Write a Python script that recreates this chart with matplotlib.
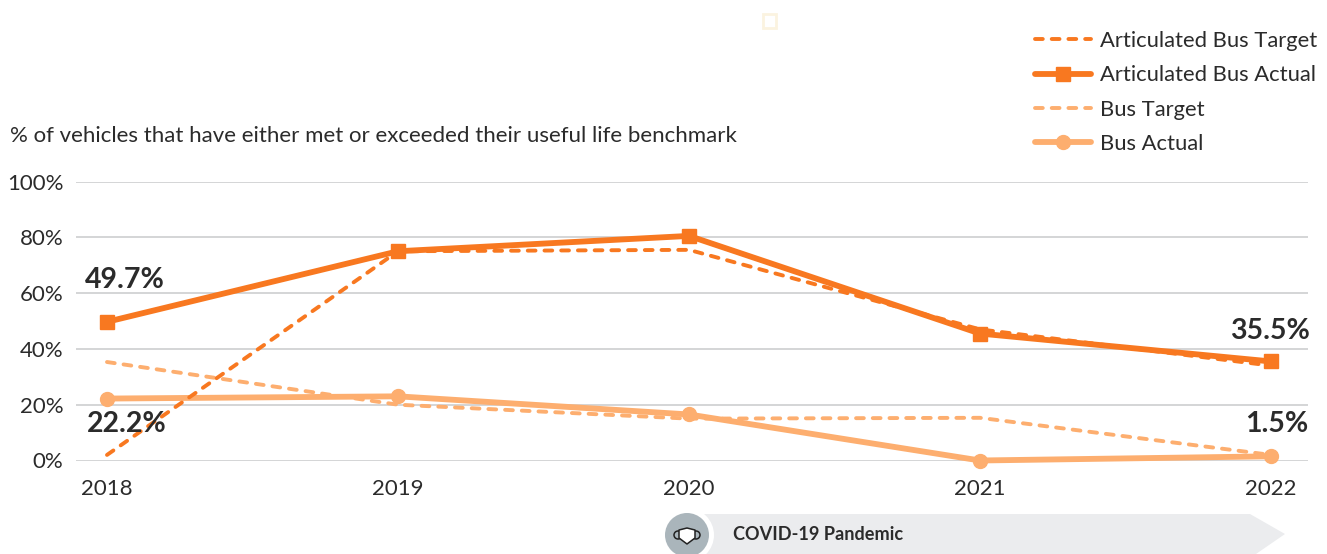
import matplotlib
matplotlib.use('Agg')
import matplotlib.pyplot as plt
from matplotlib.patches import Polygon, Circle, Rectangle

W, H = 1327, 554

years = [2018, 2019, 2020, 2021, 2022]
art_target = [2, 75, 75.5, 47, 34]
art_actual = [49.7, 75, 80.5, 45.5, 35.5]
bus_target = [35.3, 20, 15, 15.3, 2]
bus_actual = [22.2, 23, 16.5, 0, 1.5]
y_ticks = [0, 20, 40, 60, 80, 100]

DARK = '#F87820'
LIGHT = '#FDAE6F'
TEXT = '#2b2b2b'

plt.rcParams['font.family'] = ['Lato', 'DejaVu Sans']

fig = plt.figure(figsize=(W / 100, H / 100), dpi=100)

# overlay in pixel coords for the bits outside the plot
bg = fig.add_axes([0, 0, 1, 1])
bg.set_xlim(0, W)
bg.set_ylim(H, 0)
bg.axis('off')

ax = fig.add_axes([76 / W, 1 - 460.5 / H, (1308 - 76) / W, 279 / H])
ax.patch.set_alpha(0)
ax.set_xlim(2018 - 31 / 291, 2022 + 37 / 291)
ax.set_ylim(0, 100)
for s in ax.spines.values():
    s.set_visible(False)
ax.set_yticks(y_ticks)
ax.set_yticklabels([f'{v}%' for v in y_ticks])
ax.set_xticks(years)
ax.tick_params(length=0, labelsize=16, labelcolor=TEXT)
ax.tick_params(axis='y', pad=9)
ax.tick_params(axis='x', pad=13)
ax.grid(axis='y', color='#c9cacc', linewidth=1.1)
ax.set_axisbelow(True)

dash = dict(lw=2.8, dashes=(2.0, 2.3), dash_capstyle='round', clip_on=False)
solid = dict(lw=4.2, ms=10, solid_capstyle='round', clip_on=False)
ax.plot(years, bus_target, color=LIGHT, label='Bus Target', **dash)
ax.plot(years, bus_actual, color=LIGHT, marker='o', label='Bus Actual', **solid)
ax.plot(years, art_target, color=DARK, label='Articulated Bus Target', **dash)
ax.plot(years, art_actual, color=DARK, marker='s', label='Articulated Bus Actual', **solid)

handles, labels = ax.get_legend_handles_labels()
order = [2, 3, 0, 1]
leg = fig.legend([handles[i] for i in order], [labels[i] for i in order],
                 loc='upper right', bbox_to_anchor=(1317 / W, 1 - 31 / H), frameon=False,
                 fontsize=15.85, labelcolor=TEXT, handlelength=2.5, handletextpad=0.42,
                 labelspacing=0.65, borderpad=0, borderaxespad=0)

for txt, year, val, px, py in [('49.7%', 2018, 49.7, 125, 280), ('22.2%', 2018, 22.2, 127, 424),
                               ('35.5%', 2022, 35.5, 1270, 331), ('1.5%', 2022, 1.5, 1277, 424)]:
    ax.annotate(txt, (year, val), xytext=(px, py), textcoords=bg.transData,
                ha='center', va='center', fontsize=20.5, fontweight='bold', color=TEXT)

bg.text(10, 136, '% of vehicles that have either met or exceeded their useful life benchmark',
        fontsize=16, color=TEXT, va='center')

# small stray square at the top
bg.add_patch(Rectangle((763, 14), 13, 14, fill=False, ec='#fbf3e0', lw=2))

# covid banner
bg.add_patch(Polygon([(700, 514), (1250, 514), (1285, 534), (1256, 554), (700, 554)],
                     closed=True, fc='#ebecee', ec='none'))
bg.add_patch(Circle((687, 535), 27, fc='white', ec='none'))
bg.add_patch(Circle((687, 535), 22, fc='#aab5bb', ec='none'))
# mask icon, ear loops first
bg.add_patch(Circle((678, 535), 4, fc='none', ec='#222222', lw=1.1))
bg.add_patch(Circle((696, 535), 4, fc='none', ec='#222222', lw=1.1))
bg.add_patch(Polygon([(679, 530), (687, 528), (695, 530), (695, 538), (687, 544), (679, 538)],
                     closed=True, fc='white', ec='#222222', lw=1.1, joinstyle='round'))
bg.text(733, 534, 'COVID-19 Pandemic', fontsize=13.1, fontweight='bold', color=TEXT, va='center')

fig.savefig('out.png', dpi=100)
